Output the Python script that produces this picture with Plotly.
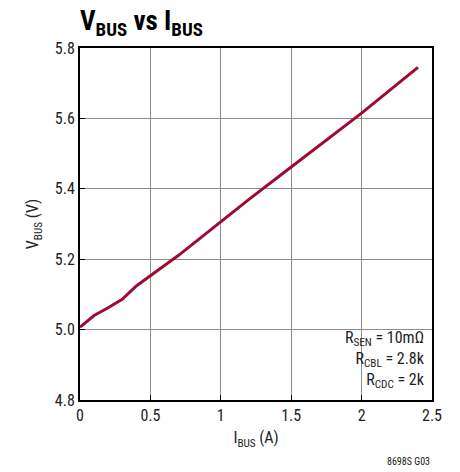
import plotly.graph_objects as go

ibus = [0.0, 0.1, 0.2, 0.3, 0.4, 0.5, 0.6, 0.7, 0.8, 0.9, 1.0, 1.2, 1.5, 2.0, 2.4]
vbus = [5.007, 5.04, 5.062, 5.086, 5.124, 5.152, 5.182, 5.211, 5.243, 5.274, 5.305, 5.37, 5.462, 5.615, 5.745]
x_ticks = [0, 0.5, 1, 1.5, 2, 2.5]
y_ticks = [4.8, 5.0, 5.2, 5.4, 5.6, 5.8]

FONT = "Liberation Sans Narrow, Roboto Condensed, Liberation Sans, Arial, sans-serif"

fig = go.Figure()
fig.add_trace(go.Scatter(x=ibus, y=vbus, mode="lines",
                         line=dict(color="#9e0b32", width=3), showlegend=False))

axis_common = dict(showline=True, mirror=True, linecolor="black", linewidth=2,
                   showgrid=True, gridcolor="#8c8c8c", gridwidth=1,
                   ticks="inside", ticklen=5, tickcolor="black", tickwidth=1,
                   zeroline=False, tickfont=dict(family=FONT, size=16, color="#222"))

fig.update_xaxes(range=[0, 2.5], tickvals=x_ticks, ticktext=[str(v) for v in x_ticks],
                 title=dict(text="I<sub>BUS</sub> (A)", font=dict(family=FONT, size=16, color="#222"), standoff=8),
                 **axis_common)
fig.update_yaxes(range=[4.8, 5.8], tickvals=y_ticks, ticktext=[f"{v:.1f}" for v in y_ticks],
                 title=dict(text="V<sub>BUS</sub> (V)", font=dict(family=FONT, size=16, color="#222"), standoff=12),
                 **axis_common)

fig.add_shape(type="rect", xref="paper", yref="paper", x0=0.64, x1=0.995, y0=0.005, y1=0.222,
              fillcolor="white", line=dict(width=0), layer="between")

fig.add_annotation(xref="paper", yref="paper", x=0.985, y=0.02, xanchor="right", yanchor="bottom",
                   align="right", showarrow=False,
                   text="R<sub>SEN</sub> = 10mΩ<br>R<sub>CBL</sub> = 2.8k<br>R<sub>CDC</sub> = 2k",
                   font=dict(family=FONT, size=16, color="#222"))

fig.add_annotation(xref="paper", yref="paper", x=1.0, y=-0.176, xanchor="right", yanchor="middle",
                   showarrow=False, text="8698S G03",
                   font=dict(family=FONT, size=10, color="#222"))

fig.update_layout(
    width=452, height=464,
    margin=dict(l=72, r=28, t=40, b=72),
    paper_bgcolor="white", plot_bgcolor="white",
    title=dict(text="<b>V<sub>BUS</sub> vs I<sub>BUS</sub></b>", x=72/452, xanchor="left",
               y=1 - 13/464, yanchor="middle",
               font=dict(family=FONT, size=27, color="black")),
)

fig.write_html("out.html")
